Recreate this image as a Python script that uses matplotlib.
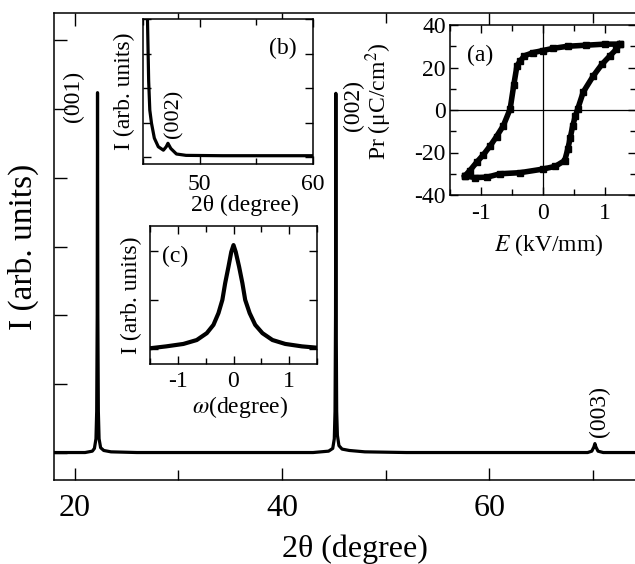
import matplotlib
matplotlib.use('Agg')
import matplotlib.pyplot as plt
from matplotlib.ticker import MultipleLocator, NullFormatter

plt.rcParams['font.family'] = ['Liberation Serif', 'DejaVu Serif']
plt.rcParams['mathtext.fontset'] = 'stix'
plt.rcParams['axes.unicode_minus'] = False
plt.rcParams['axes.linewidth'] = 1.1

# main XRD pattern (2theta scan)
two_theta = [18.0, 20.0, 21.0, 21.7, 21.9, 22.05, 22.12, 22.17, 22.2, 22.23, 22.28, 22.35,
             22.5, 22.8, 23.5, 26.0, 30.0, 35.0, 40.0, 43.0, 44.5, 44.9, 45.05, 45.12,
             45.17, 45.2, 45.23, 45.28, 45.35, 45.5, 45.8, 46.5, 48.0, 52.0, 58.0, 64.0,
             69.5, 69.9, 70.1, 70.2, 70.3, 70.5, 71.0, 74.0, 76.0]
intensity = [0.0, 0.0, 0.0, 0.02, 0.06, 0.2, 0.6, 2.0, 5.24, 2.0, 0.6, 0.2,
             0.07, 0.03, 0.01, 0.0, 0.0, 0.0, 0.0, 0.0, 0.02, 0.06, 0.2, 0.6,
             2.0, 5.23, 2.0, 0.6, 0.25, 0.1, 0.05, 0.03, 0.01, 0.0, 0.0, 0.0,
             0.0, 0.02, 0.08, 0.13, 0.08, 0.02, 0.0, 0.0, 0.0]
peak_labels = ['(001)', '(002)', '(003)']

# inset (b): low-angle side of the (002) region
b_two_theta = [45.35, 45.4, 45.5, 45.6, 45.75, 46.0, 46.35, 46.8, 47.05, 47.2, 47.45,
               47.95, 48.8, 52.0, 56.0, 60.0]
b_intensity = [4.5, 3.9, 2.2, 1.36, 0.98, 0.55, 0.3, 0.2, 0.3, 0.4, 0.25,
               0.09, 0.05, 0.04, 0.04, 0.04]

# inset (c): rocking curve
omega = [-1.51, -1.21, -0.9, -0.66, -0.48, -0.36, -0.27, -0.2, -0.15, -0.09, -0.04, 0.0,
         0.04, 0.1, 0.16, 0.21, 0.29, 0.39, 0.52, 0.7, 0.93, 1.23, 1.53]
rocking = [0.01, 0.05, 0.1, 0.18, 0.32, 0.49, 0.73, 1.0, 1.34, 1.68, 1.98, 2.12,
           1.98, 1.68, 1.34, 1.0, 0.73, 0.49, 0.32, 0.18, 0.1, 0.05, 0.02]

# inset (a): P-E hysteresis loop
e_down = [1.24, 1.0, 0.7, 0.4, 0.16, 0.0, -0.16, -0.3, -0.37, -0.42, -0.47, -0.53,
          -0.64, -0.75, -0.85, -0.96, -1.07, -1.18, -1.26]
p_down = [31.0, 31.0, 30.5, 30.0, 29.0, 28.0, 27.0, 25.5, 23.0, 20.8, 12.0, 0.5,
          -7.4, -12.5, -16.8, -21.0, -24.6, -28.5, -31.0]
e_up = [-1.26, -1.1, -0.9, -0.69, -0.37, 0.0, 0.2, 0.35, 0.4, 0.44, 0.48, 0.52, 0.56,
        0.65, 0.81, 0.95, 1.08, 1.18, 1.24]
p_up = [-31.0, -31.8, -31.6, -30.0, -29.5, -27.8, -26.5, -23.8, -18.4, -13.0, -7.4,
        -3.0, 0.5, 8.5, 16.0, 21.5, 25.5, 28.5, 31.0]


def style_ticks(ax, size):
    ax.tick_params(which='both', direction='in', top=True, right=True, labelsize=size)
    ax.tick_params(which='major', length=6, width=1.0)
    ax.tick_params(which='minor', length=4, width=1.0)


fig = plt.figure(figsize=(6.35, 5.64), dpi=100)

# main axes (the original figure was cropped on the right)
ax = fig.add_axes([54 / 635, 1 - 480 / 564, 601 / 635, 467 / 564])
ax.plot(two_theta, intensity, color='black', lw=2.3)
ax.set_xlim(18, 76)
ax.set_ylim(-0.4, 6.4)
ax.xaxis.set_major_locator(MultipleLocator(20))
ax.xaxis.set_minor_locator(MultipleLocator(10))
ax.yaxis.set_major_locator(MultipleLocator(1))
ax.yaxis.set_major_formatter(NullFormatter())
ax.tick_params(which='both', direction='in', top=True, right=False, labelsize=23, pad=10)
ax.tick_params(which='major', length=9, width=1.0)
ax.tick_params(which='minor', length=7, width=1.0)
ax.spines['right'].set_visible(False)
ax.set_xlabel('2θ (degree)', fontsize=23, labelpad=8)
ax.set_ylabel('I (arb. units)', fontsize=24, labelpad=1)
for lab, x, y in zip(peak_labels, [19.9, 46.9, 70.6], [5.18, 5.05, 0.6]):
    ax.text(x, y, lab, rotation=90, ha='center', va='center', fontsize=17)

# inset (b)
axb = fig.add_axes([143 / 635, 1 - 164 / 564, 170 / 635, 145 / 564])
axb.plot(b_two_theta, b_intensity, color='black', lw=2.3)
axb.set_xlim(45, 60)
axb.set_ylim(-0.2, 4.0)
axb.xaxis.set_major_locator(MultipleLocator(10))
axb.xaxis.set_minor_locator(MultipleLocator(5))
axb.yaxis.set_major_locator(MultipleLocator(1))
axb.yaxis.set_major_formatter(NullFormatter())
style_ticks(axb, 17)
axb.tick_params(axis='x', pad=7)
axb.set_xlabel('2θ (degree)', fontsize=17)
axb.xaxis.set_label_coords(0.6, -0.21)
axb.set_ylabel('I (arb. units)', fontsize=17, labelpad=2)
axb.text(0.82, 0.8, '(b)', transform=axb.transAxes, ha='center', va='center', fontsize=17)
axb.text(47.75, 1.25, '(002)', rotation=90, ha='center', va='center', fontsize=16)

# inset (c)
axc = fig.add_axes([150 / 635, 1 - 364 / 564, 167 / 635, 138 / 564])
axc.plot(omega, rocking, color='black', lw=3)
axc.set_xlim(-1.5, 1.5)
axc.set_ylim(-0.31, 2.51)
axc.xaxis.set_major_locator(MultipleLocator(1))
axc.xaxis.set_minor_locator(MultipleLocator(0.5))
axc.yaxis.set_major_locator(MultipleLocator(1))
axc.yaxis.set_major_formatter(NullFormatter())
style_ticks(axc, 17)
axc.tick_params(axis='x', pad=5)
axc.set_xlabel(r'$\omega$(degree)', fontsize=17)
axc.xaxis.set_label_coords(0.54, -0.22)
axc.set_ylabel('I (arb. units)', fontsize=17, labelpad=2)
axc.text(0.15, 0.78, '(c)', transform=axc.transAxes, ha='center', va='center', fontsize=17)

# inset (a)
axa = fig.add_axes([450 / 635, 1 - 195 / 564, 186 / 635, 170 / 564])
axa.axhline(0, color='black', lw=0.9)
axa.axvline(0, color='black', lw=0.9)
axa.plot(e_down, p_down, color='black', lw=4, marker='s', ms=4)
axa.plot(e_up, p_up, color='black', lw=4, marker='s', ms=4)
axa.set_xlim(-1.5, 1.5)
axa.set_ylim(-40, 40)
axa.xaxis.set_major_locator(MultipleLocator(1))
axa.xaxis.set_minor_locator(MultipleLocator(0.5))
axa.yaxis.set_major_locator(MultipleLocator(20))
axa.yaxis.set_minor_locator(MultipleLocator(10))
style_ticks(axa, 17)
axa.tick_params(axis='both', pad=3)
axa.tick_params(axis='x', pad=6)
axa.set_xlabel(r'$E$ (kV/mm)', fontsize=17)
axa.xaxis.set_label_coords(0.53, -0.22)
axa.set_ylabel(r'Pr (μC/cm$^2$)', fontsize=17)
axa.yaxis.set_label_coords(-0.3, 0.55)
axa.text(0.16, 0.82, '(a)', transform=axa.transAxes, ha='center', va='center', fontsize=17)

fig.savefig('out.png', dpi=100)
